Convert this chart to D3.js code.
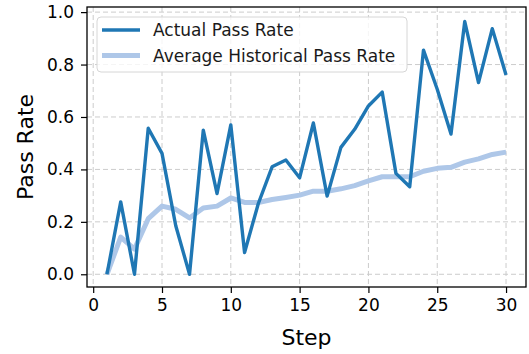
<!DOCTYPE html>
<html>
<head>
<meta charset="utf-8">
<script src="https://cdn.jsdelivr.net/npm/d3@7"></script>
<style>
  body { margin: 0; background: #fff; }
  svg { display: block; font-family: "DejaVu Sans", sans-serif; }
</style>
</head>
<body>
<svg width="529" height="354"></svg>
<script>
var steps = [1, 2, 3, 4, 5, 6, 7, 8, 9, 10, 11, 12, 13, 14, 15,
  16, 17, 18, 19, 20, 21, 22, 23, 24, 25, 26, 27, 28, 29, 30];

var actualRate = [0.0, 0.276, 0.0, 0.557, 0.461, 0.185, 0.0, 0.55, 0.308, 0.57,
  0.083, 0.27, 0.41, 0.436, 0.368, 0.577, 0.298, 0.484, 0.553, 0.642,
  0.695, 0.385, 0.334, 0.855, 0.706, 0.535, 0.964, 0.731, 0.937, 0.76];

var avgRate = [0.0, 0.142, 0.096, 0.212, 0.26, 0.248, 0.215, 0.253, 0.26, 0.291,
  0.274, 0.274, 0.285, 0.293, 0.302, 0.317, 0.317, 0.326, 0.338, 0.356,
  0.372, 0.372, 0.372, 0.393, 0.404, 0.408, 0.428, 0.44, 0.457, 0.466];

var xTicks = [0, 5, 10, 15, 20, 25, 30];
var yTicks = [0.0, 0.2, 0.4, 0.6, 0.8, 1.0];

var seriesNames = ["Actual Pass Rate", "Average Historical Pass Rate"];
var seriesColors = ["#1f77b4", "#aec7e8"];

var svg = d3.select("svg");

var margin = {top: 7, right: 3, bottom: 67, left: 87};
var plotWidth = 529 - margin.left - margin.right;
var plotHeight = 354 - margin.top - margin.bottom;

// matplotlib style 5% margins around the data
var xMin = d3.min(steps), xMax = d3.max(steps);
var xPad = (xMax - xMin) * 0.05;
var yMax = 0.971;
var yPad = yMax * 0.05;

var xScale = d3.scaleLinear()
  .domain([xMin - xPad, xMax + xPad])
  .range([0, plotWidth]);

var yScale = d3.scaleLinear()
  .domain([-yPad, yMax + yPad])
  .range([plotHeight, 0]);

var plot = svg.append("g")
  .attr("transform", "translate(" + margin.left + "," + margin.top + ")");

// dashed grid
plot.append("g")
  .selectAll("line.vgrid")
  .data(xTicks)
  .enter().append("line")
  .attr("x1", function(d) { return xScale(d); })
  .attr("x2", function(d) { return xScale(d); })
  .attr("y1", 0)
  .attr("y2", plotHeight)
  .attr("stroke", "#cccccc")
  .attr("stroke-width", 1)
  .attr("stroke-dasharray", "5,3");

plot.append("g")
  .selectAll("line.hgrid")
  .data(yTicks)
  .enter().append("line")
  .attr("y1", function(d) { return yScale(d); })
  .attr("y2", function(d) { return yScale(d); })
  .attr("x1", 0)
  .attr("x2", plotWidth)
  .attr("stroke", "#cccccc")
  .attr("stroke-width", 1)
  .attr("stroke-dasharray", "5,3");

var line = d3.line()
  .x(function(d) { return xScale(d[0]); })
  .y(function(d) { return yScale(d[1]); });

plot.append("path")
  .datum(d3.zip(steps, avgRate))
  .attr("fill", "none")
  .attr("stroke", seriesColors[1])
  .attr("stroke-width", 5)
  .attr("stroke-linejoin", "round")
  .attr("d", line);

plot.append("path")
  .datum(d3.zip(steps, actualRate))
  .attr("fill", "none")
  .attr("stroke", seriesColors[0])
  .attr("stroke-width", 3.4)
  .attr("stroke-linejoin", "round")
  .attr("d", line);

// axes
var xAxis = d3.axisBottom(xScale).tickValues(xTicks).tickSize(6).tickPadding(6)
  .tickFormat(d3.format("d"));
var yAxis = d3.axisLeft(yScale).tickValues(yTicks).tickSize(6).tickPadding(7)
  .tickFormat(d3.format(".1f"));

var xGroup = plot.append("g")
  .attr("transform", "translate(0," + plotHeight + ")")
  .call(xAxis);
var yGroup = plot.append("g").call(yAxis);

[xGroup, yGroup].forEach(function(g) {
  g.select(".domain").remove();
  g.selectAll(".tick line").attr("stroke", "#000").attr("stroke-width", 1.2);
  g.selectAll("text")
    .attr("fill", "#000")
    .style("font-size", "17px")
    .style("font-family", "DejaVu Sans, sans-serif");
});

// frame
plot.append("rect")
  .attr("width", plotWidth)
  .attr("height", plotHeight)
  .attr("fill", "none")
  .attr("stroke", "#000")
  .attr("stroke-width", 1.3);

// legend
var legend = plot.append("g").attr("transform", "translate(10,10)");
legend.append("rect")
  .attr("width", 310)
  .attr("height", 55)
  .attr("rx", 4)
  .attr("fill", "#fff")
  .attr("fill-opacity", 0.8)
  .attr("stroke", "#d6d6d6")
  .attr("stroke-width", 1);

var items = legend.selectAll("g.item")
  .data(seriesNames)
  .enter().append("g")
  .attr("transform", function(d, i) { return "translate(0," + (13 + i * 25.5) + ")"; });

items.append("line")
  .attr("x1", 5)
  .attr("x2", 43)
  .attr("stroke", function(d, i) { return seriesColors[i]; })
  .attr("stroke-width", function(d, i) { return i == 0 ? 3.4 : 5; });

items.append("text")
  .attr("x", 56)
  .attr("dy", "0.36em")
  .style("font-size", "17px")
  .attr("fill", "#1a1a1a")
  .text(function(d) { return d; });

// axis titles
svg.append("text")
  .attr("x", margin.left + plotWidth / 2)
  .attr("y", 345)
  .attr("text-anchor", "middle")
  .style("font-size", "22px")
  .text("Step");

svg.append("text")
  .attr("transform", "translate(33," + (margin.top + plotHeight / 2) + ") rotate(-90)")
  .attr("text-anchor", "middle")
  .style("font-size", "22px")
  .text("Pass Rate");
</script>
</body>
</html>
